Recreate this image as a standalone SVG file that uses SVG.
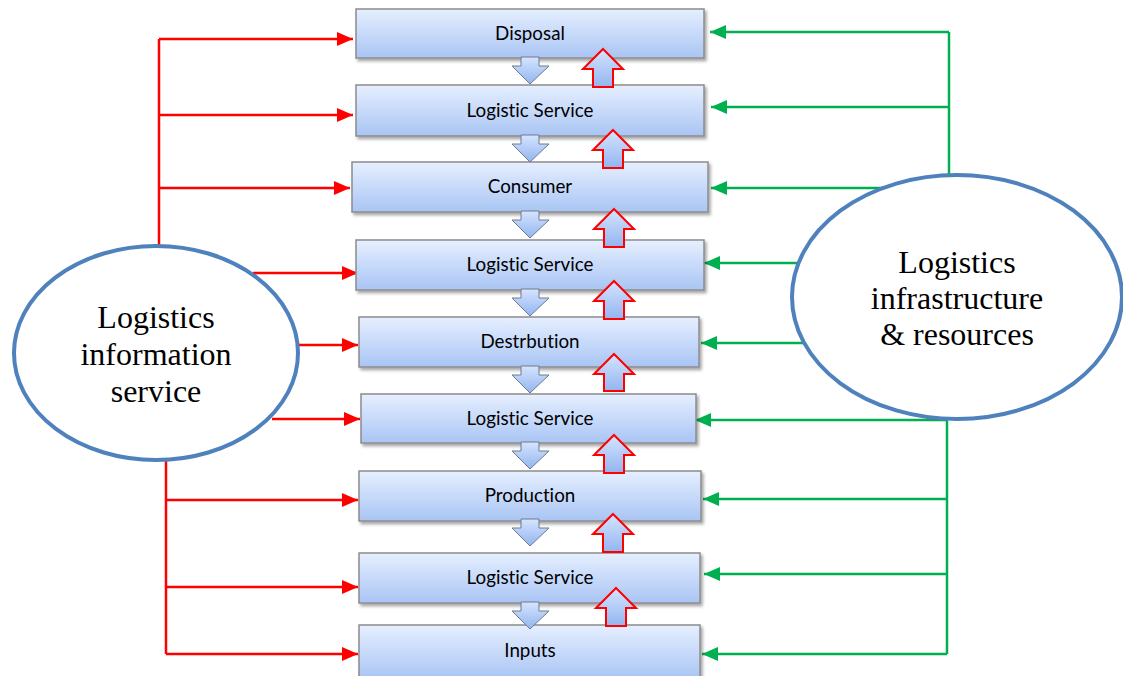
<svg xmlns="http://www.w3.org/2000/svg" width="1123" height="676" viewBox="0 0 1123 676">
  <defs>
    <linearGradient id="boxFill" x1="0" y1="0" x2="0" y2="1">
      <stop offset="0" stop-color="#E6EFFF"/>
      <stop offset="1" stop-color="#A9C5F4"/>
    </linearGradient>
    <linearGradient id="arrowFill" x1="0" y1="0" x2="0" y2="1">
      <stop offset="0" stop-color="#D6E4FF"/>
      <stop offset="1" stop-color="#92B5F0"/>
    </linearGradient>
    <filter id="shadow" x="-5%" y="-20%" width="110%" height="150%">
      <feDropShadow dx="2" dy="2.5" stdDeviation="1.5" flood-color="#000" flood-opacity="0.35"/>
    </filter>
    <marker id="headRed" markerUnits="userSpaceOnUse" markerWidth="16" markerHeight="14" refX="16" refY="7" orient="auto">
      <path d="M0,0 L16,7 L0,14 Z" fill="#FF0000"/>
    </marker>
    <marker id="headGreen" markerUnits="userSpaceOnUse" markerWidth="16" markerHeight="14" refX="16" refY="7" orient="auto">
      <path d="M0,0 L16,7 L0,14 Z" fill="#00B050"/>
    </marker>
    <style>
      .box { fill: url(#boxFill); stroke: #8C8C8C; stroke-width: 1.5; filter: url(#shadow); }
      .label { font-family: Lato, "Open Sans", sans-serif; font-size: 18.8px; fill: #000; text-anchor: middle; font-variant-ligatures: none; }
      .down { fill: url(#arrowFill); stroke: #6F7A8C; stroke-width: 1; }
      .up { fill: url(#arrowFill); stroke: #FF0000; stroke-width: 2; }
      .oval { fill: #fff; stroke: #4F81BD; stroke-width: 4; }
      .ovalText { font-family: "Liberation Serif", "Times New Roman", serif; font-size: 32px; fill: #000; text-anchor: middle; }
      .red { fill: none; stroke: #FF0000; stroke-width: 2.5; }
      .green { fill: none; stroke: #00B050; stroke-width: 2.5; }
      .redHead { marker-end: url(#headRed); }
      .greenHead { marker-end: url(#headGreen); }
    </style>
  </defs>

  <rect width="1123" height="676" fill="#fff"/>

  <!-- feeds from the information service (red) and the infrastructure (green) -->
  <g id="connectors">
    <path class="red" d="M159,246 V39"/>
    <path class="red redHead" d="M159,39 H353"/>
    <path class="red redHead" d="M159,115 H353"/>
    <path class="red redHead" d="M159,188 H350"/>
    <path class="red redHead" d="M253,273 H358"/>
    <path class="red redHead" d="M298,345 H358"/>
    <path class="red redHead" d="M272,419 H360"/>
    <path class="red" d="M166,460 V654"/>
    <path class="red redHead" d="M166,500 H358"/>
    <path class="red redHead" d="M166,587 H358"/>
    <path class="red redHead" d="M166,654 H358"/>

    <path class="green" d="M949,176 V32"/>
    <path class="green greenHead" d="M949,32 H710"/>
    <path class="green greenHead" d="M949,107 H711"/>
    <path class="green greenHead" d="M890,188 H711"/>
    <path class="green greenHead" d="M805,263 H704"/>
    <path class="green greenHead" d="M805,343 H701"/>
    <path class="green" d="M947,420 V654"/>
    <path class="green greenHead" d="M947,420 H695"/>
    <path class="green greenHead" d="M947,499 H703"/>
    <path class="green greenHead" d="M947,574 H704"/>
    <path class="green greenHead" d="M947,654 H702"/>
  </g>

  <g id="info-service">
    <ellipse class="oval" cx="156" cy="353" rx="142" ry="107"/>
    <text class="ovalText" x="156" y="328">Logistics</text>
    <text class="ovalText" x="156" y="365">information</text>
    <text class="ovalText" x="156" y="402">service</text>
  </g>

  <g id="infrastructure">
    <ellipse class="oval" cx="957" cy="297" rx="165" ry="122"/>
    <text class="ovalText" x="957" y="273">Logistics</text>
    <text class="ovalText" x="957" y="309">infrastructure</text>
    <text class="ovalText" x="957" y="345">&amp; resources</text>
  </g>

  <!-- chain of stages, top to bottom -->
  <g id="disposal">
    <rect class="box" x="356" y="9" width="348" height="49"/>
    <text class="label" x="530" y="40">Disposal</text>
  </g>
  <g id="service-4">
    <rect class="box" x="356" y="85" width="348" height="51"/>
    <text class="label" x="530" y="117">Logistic Service</text>
  </g>
  <g id="consumer">
    <rect class="box" x="352" y="162" width="356" height="50"/>
    <text class="label" x="530" y="193">Consumer</text>
  </g>
  <g id="service-3">
    <rect class="box" x="356" y="240" width="348" height="50"/>
    <text class="label" x="530" y="271">Logistic Service</text>
  </g>
  <g id="distribution">
    <rect class="box" x="359" y="317" width="340" height="50"/>
    <text class="label" x="530" y="348">Destrbution</text>
  </g>
  <g id="service-2">
    <rect class="box" x="361" y="394" width="335" height="49"/>
    <text class="label" x="530" y="425">Logistic Service</text>
  </g>
  <g id="production">
    <rect class="box" x="359" y="471" width="342" height="50"/>
    <text class="label" x="530" y="502">Production</text>
  </g>
  <g id="service-1">
    <rect class="box" x="359" y="553" width="341" height="50"/>
    <text class="label" x="530" y="584">Logistic Service</text>
  </g>
  <g id="inputs">
    <rect class="box" x="359" y="625" width="341" height="54"/>
    <text class="label" x="530" y="657">Inputs</text>
  </g>

  <!-- downward flow arrows between stages -->
  <g id="flow-down">
    <path class="down" d="M521,57 H539 V66 H549 L530,84 L512,66 H521 Z"/>
    <path class="down" d="M521,135 H539 V144 H549 L530,162 L512,144 H521 Z"/>
    <path class="down" d="M521,211 H539 V220 H549 L530,238 L512,220 H521 Z"/>
    <path class="down" d="M521,289 H539 V298 H549 L530,316 L512,298 H521 Z"/>
    <path class="down" d="M521,366 H539 V375 H549 L530,393 L512,375 H521 Z"/>
    <path class="down" d="M521,442 H539 V451 H549 L530,469 L512,451 H521 Z"/>
    <path class="down" d="M521,519 H539 V528 H549 L530,546 L512,528 H521 Z"/>
    <path class="down" d="M521,602 H539 V611 H549 L530,629 L512,611 H521 Z"/>
  </g>

  <!-- upward feedback arrows -->
  <g id="flow-up">
    <path class="up" d="M603,49 L623,69 H613 V87 H593 V69 H583 Z"/>
    <path class="up" d="M613,130 L633,150 H623 V168 H603 V150 H593 Z"/>
    <path class="up" d="M614,209 L634,229 H624 V247 H604 V229 H594 Z"/>
    <path class="up" d="M614,281 L634,301 H624 V319 H604 V301 H594 Z"/>
    <path class="up" d="M614,354 L634,374 H624 V391 H604 V374 H594 Z"/>
    <path class="up" d="M614,435 L634,455 H624 V473 H604 V455 H594 Z"/>
    <path class="up" d="M613,514 L633,534 H623 V552 H603 V534 H593 Z"/>
    <path class="up" d="M616,588 L636,608 H626 V626 H606 V608 H596 Z"/>
  </g>
</svg>
